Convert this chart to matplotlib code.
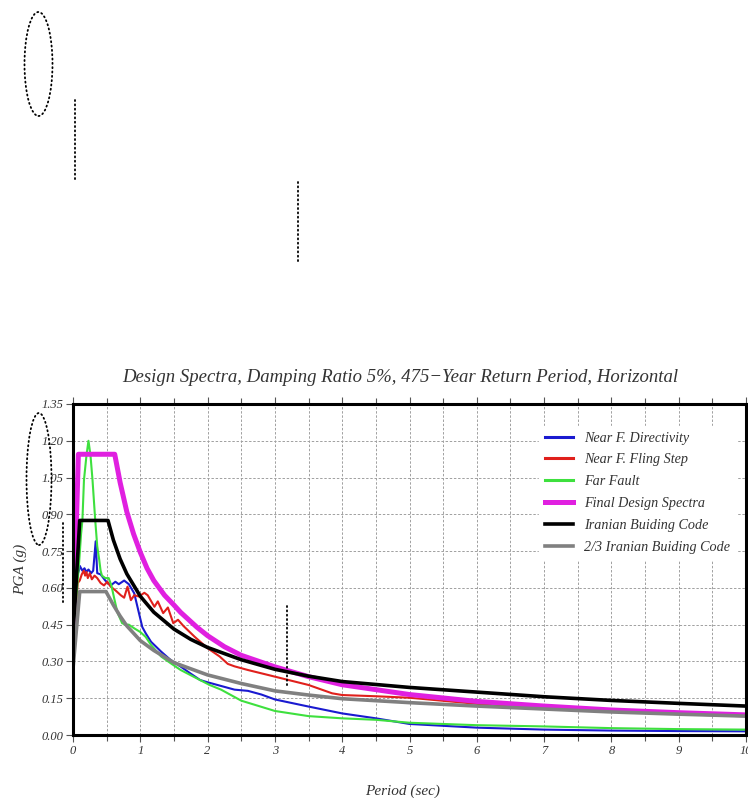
import matplotlib
matplotlib.use("Agg")
import matplotlib.pyplot as plt
from matplotlib.patches import Ellipse
from matplotlib.lines import Line2D
from matplotlib.ticker import MultipleLocator, FormatStrFormatter

# ---------------- data ----------------
T_dir = [0, 0.05, 0.09, 0.1, 0.14, 0.17, 0.2, 0.23, 0.27, 0.3, 0.337, 0.36, 0.41, 0.48, 0.56,
         0.63, 0.68, 0.76, 0.83, 0.91, 0.98, 1.03, 1.08, 1.16, 1.31, 1.45, 1.6, 1.74, 1.89, 2.0,
         2.2, 2.4, 2.6, 2.8, 3.0, 3.5, 4.0, 4.5, 5.0, 6.0, 7.0, 8.0, 9.0, 10.0]
directivity = [0.35, 0.64, 0.673, 0.69, 0.67, 0.68, 0.665, 0.675, 0.66, 0.67, 0.79, 0.66, 0.655,
               0.63, 0.61, 0.625, 0.615, 0.63, 0.615, 0.578, 0.497, 0.44, 0.415, 0.38, 0.34,
               0.306, 0.279, 0.252, 0.224, 0.215, 0.2, 0.185, 0.18, 0.165, 0.145, 0.116, 0.088,
               0.068, 0.045, 0.03, 0.022, 0.018, 0.016, 0.015]

T_fling = [0, 0.07, 0.1, 0.13, 0.16, 0.18, 0.2, 0.22, 0.25, 0.28, 0.32, 0.36, 0.41, 0.46, 0.51,
           0.56, 0.63, 0.71, 0.76, 0.81, 0.86, 0.91, 0.98, 1.06, 1.11, 1.21, 1.26, 1.34, 1.41,
           1.49, 1.56, 1.64, 1.81, 2.0, 2.18, 2.3, 2.4, 2.6, 3.0, 3.5, 3.85, 4.0, 4.5, 5.0, 6.0,
           7.0, 8.0, 9.0, 10.0]
fling = [0.35, 0.62, 0.63, 0.655, 0.67, 0.65, 0.665, 0.64, 0.66, 0.635, 0.65, 0.64, 0.62, 0.61,
         0.625, 0.605, 0.59, 0.57, 0.56, 0.605, 0.55, 0.57, 0.565, 0.58, 0.57, 0.523, 0.545,
         0.497, 0.52, 0.456, 0.47, 0.445, 0.40, 0.354, 0.32, 0.29, 0.28, 0.265, 0.238, 0.204,
         0.17, 0.163, 0.158, 0.152, 0.127, 0.11, 0.097, 0.088, 0.08]

T_far = [0, 0.06, 0.09, 0.12, 0.14, 0.163, 0.2, 0.23, 0.26, 0.29, 0.33, 0.36, 0.39, 0.41, 0.43,
         0.48, 0.53, 0.57, 0.61, 0.66, 0.73, 0.78, 0.83, 0.91, 1.0, 1.08, 1.16, 1.31, 1.45, 1.6,
         1.79, 2.03, 2.2, 2.5, 3.0, 3.5, 4.0, 4.5, 5.0, 6.0, 7.0, 8.0, 9.0, 10.0]
far_fault = [0.35, 0.60, 0.70, 0.82, 0.877, 1.04, 1.14, 1.20, 1.14, 1.04, 0.877, 0.77, 0.714,
             0.67, 0.65, 0.64, 0.64, 0.61, 0.56, 0.50, 0.456, 0.45, 0.45, 0.435, 0.42, 0.40,
             0.367, 0.32, 0.293, 0.265, 0.238, 0.204, 0.185, 0.14, 0.098, 0.077, 0.068, 0.062,
             0.05, 0.04, 0.035, 0.028, 0.024, 0.022]

T_final = [0, 0.08, 0.62, 0.7, 0.8, 0.9, 1.0, 1.1, 1.2, 1.36, 1.5, 1.6, 1.84, 2.0, 2.25, 2.5,
           3.0, 3.5, 4.0, 5.0, 6.0, 7.0, 8.0, 9.0, 10.0]
final_design = [0.39, 1.145, 1.145, 1.03, 0.91, 0.82, 0.745, 0.68, 0.63, 0.57, 0.53, 0.50,
                0.44, 0.405, 0.36, 0.325, 0.278, 0.238, 0.205, 0.165, 0.137, 0.118, 0.102,
                0.091, 0.082]

T_code = [0, 0.1, 0.52, 0.6, 0.7, 0.8, 1.0, 1.2, 1.5, 1.75, 2.0, 2.5, 3.0, 3.5, 4.0, 5.0, 6.0,
          7.0, 8.0, 9.0, 10.0]
iranian_code = [0.40, 0.875, 0.875, 0.795, 0.718, 0.657, 0.566, 0.501, 0.432, 0.39, 0.357,
                0.307, 0.268, 0.24, 0.218, 0.194, 0.175, 0.156, 0.141, 0.129, 0.118]

T_two3 = [0, 0.1, 0.49, 0.6, 0.7, 0.8, 1.0, 1.2, 1.5, 2.0, 2.5, 3.0, 3.5, 4.0, 5.0, 6.0, 7.0,
          8.0, 9.0, 10.0]
two_thirds_code = [0.27, 0.585, 0.585, 0.53, 0.485, 0.445, 0.385, 0.345, 0.295, 0.245, 0.21,
                   0.18, 0.163, 0.148, 0.132, 0.118, 0.106, 0.094, 0.085, 0.077]

labels = ["Near F. Directivity", "Near F. Fling Step", "Far Fault",
          "Final Design Spectra", "Iranian Buiding Code", "2/3 Iranian Buiding Code"]
colors = ["#1a1ad0", "#e0201c", "#3ee03e", "#e020e0", "#000000", "#808080"]
widths = [1.5, 1.5, 1.5, 3.6, 2.6, 2.6]

title = "Design Spectra, Damping Ratio 5%, 475\u2212Year Return Period, Horizontal"
xlabel = "Period (sec)"
ylabel = "PGA (g)"

# ---------------- figure ----------------
W, H = 748, 798
fig = plt.figure(figsize=(W / 100, H / 100), dpi=100)
fig.patch.set_facecolor("white")

serif = ["Liberation Serif", "DejaVu Serif"]

def fx(px):
    return px / W

def fy(py):
    return 1 - py / H

ax = fig.add_axes([fx(73), fy(735), fx(746) - fx(73), fy(404) - fy(735)])

series = [(T_dir, directivity), (T_fling, fling), (T_far, far_fault),
          (T_final, final_design), (T_code, iranian_code), (T_two3, two_thirds_code)]
for (t, v), lab, c, lw in zip(series, labels, colors, widths):
    ax.plot(t, v, color=c, lw=lw, label=lab, solid_joinstyle="round")

ax.set_xlim(0, 10)
ax.set_ylim(0, 1.35)
ax.xaxis.set_major_locator(MultipleLocator(1))
ax.xaxis.set_minor_locator(MultipleLocator(0.5))
ax.yaxis.set_major_locator(MultipleLocator(0.15))
ax.yaxis.set_major_formatter(FormatStrFormatter("%.2f"))
ax.xaxis.set_major_formatter(FormatStrFormatter("%d"))

grid_kw = dict(color="#a0a0a0", lw=0.7, ls=(0, (2.5, 1.8)))
ax.grid(True, which="major", axis="both", **grid_kw)
ax.grid(True, which="minor", axis="x", **grid_kw)
ax.set_axisbelow(True)

for s in ax.spines.values():
    s.set_linewidth(2.2)
    s.set_color("black")

ax.tick_params(axis="both", which="both", direction="out", length=5, width=0.8,
               color="#555555", top=True, right=False, labelsize=9, labelcolor="#333333", pad=2)
ax.tick_params(axis="x", which="minor", length=4)
for lab in ax.get_xticklabels() + ax.get_yticklabels():
    lab.set_fontfamily(serif)
    lab.set_fontstyle("italic")

ax.set_title(title, fontsize=13.5, fontstyle="italic", family=serif, color="#333333",
             pad=16, x=0.487)
ax.set_xlabel(xlabel, fontsize=11, fontstyle="italic", family=serif, color="#333333",
              labelpad=20, x=0.49)
ax.set_ylabel(ylabel, fontsize=11, fontstyle="italic", family=serif, color="#333333", labelpad=10)

leg = ax.legend(loc="upper right", bbox_to_anchor=(0.995, 0.955), frameon=True,
                prop={"family": serif, "style": "italic", "size": 10.2},
                handlelength=2.0, handletextpad=0.75, labelspacing=0.62, borderpad=0.4)
leg.get_frame().set_facecolor("white")
leg.get_frame().set_edgecolor("white")
leg.get_frame().set_alpha(1)
for t in leg.get_texts():
    t.set_color("#333333")
for h in leg.get_lines()[:3]:
    h.set_linewidth(2.2)

# ---------------- dotted annotation marks seen in the reference ----------------
dot_kw = dict(color="black", lw=1.3, ls=(0, (0.6, 1.8)), dash_capstyle="round")

def dotted_ellipse(cx, cy, w, h):
    e = Ellipse((fx(cx), fy(cy)), w / W, h / H, transform=fig.transFigure,
                fill=False, edgecolor="black", lw=1.3, ls=(0, (0.6, 1.8)))
    e.set_capstyle("round")
    fig.add_artist(e)

def dotted_vline(x, y0, y1):
    fig.add_artist(Line2D([fx(x), fx(x)], [fy(y0), fy(y1)], transform=fig.transFigure, **dot_kw))

dotted_ellipse(38.5, 64, 28, 104)
dotted_vline(74.5, 100, 182)
dotted_vline(298, 182, 263)

dotted_ellipse(39, 479, 25, 132)
dotted_vline(63, 523, 605)
dotted_vline(287, 606, 687)

fig.savefig("out.png", dpi=100, facecolor="white")
